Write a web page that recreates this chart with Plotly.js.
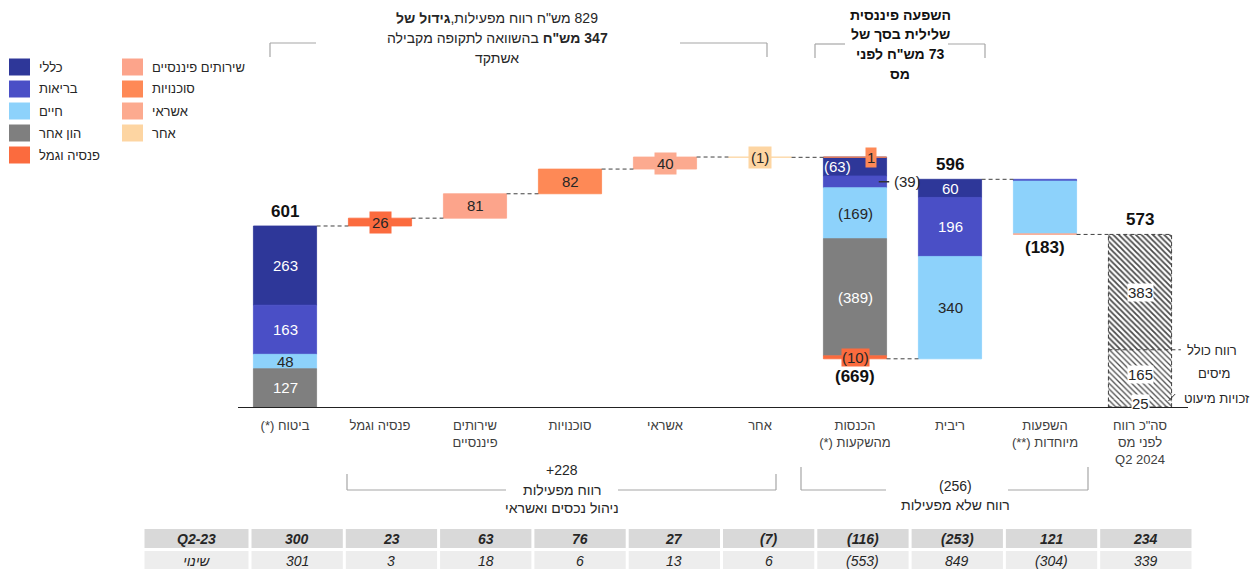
<!DOCTYPE html>
<html><head><meta charset="utf-8">
<script src="https://cdn.plot.ly/plotly-3.0.1.min.js"></script>
<style>html,body{margin:0;padding:0;background:#fff}</style>
</head><body><div id="chart" style="width:1258px;height:569px"></div>
<script>
// ---------------- DATA ----------------
const categories = ['ביטוח (*)','פנסיה וגמל','שירותים<br>פיננסיים','סוכנויות','אשראי','אחר','הכנסות<br>מהשקעות (*)','ריבית','השפעות<br>מיוחדות (**)','סה"כ רווח<br>לפני מס<br>Q2 2024'];
const insuranceLabels = ['הון אחר','חיים','בריאות','כללי'];
const insuranceValues = [127, 48, 163, 263];
const opsLabels = ['פנסיה וגמל','שירותים פיננסיים','סוכנויות','אשראי','אחר'];
const opsValues = [26, 81, 82, 40, -1];
const investLabels = ['סוכנויות','כללי','בריאות','חיים','הון אחר','פנסיה וגמל'];
const investValues = [1, -63, -39, -169, -389, -10];
const interestLabels = ['חיים','בריאות','כללי'];
const interestValues = [340, 196, 60];
const specialLabels = ['בריאות','חיים','אשראי'];
const specialValues = [-6, -175, -2];
const totalLabels = ['זכויות מיעוט','מיסים','רווח כולל'];
const totalValues = [25, 165, 383];
const legendLabels = ['כללי','בריאות','חיים','הון אחר','פנסיה וגמל','שירותים פיננסיים','סוכנויות','אשראי','אחר'];
const tableRowLabels = ['Q2-23','שינוי'];
const tableQ223 = [300, 23, 63, 76, 27, -7, -116, -253, 121, 234];
const tableChange = [301, 3, 18, 6, 13, 6, -553, 849, -304, 339];
const topNote1 = ['829 מש"ח רווח מפעילות,<b>גידול של</b>','<b>347 מש"ח</b> בהשוואה לתקופה מקבילה','אשתקד'];
const topNote2 = ['השפעה פיננסית','שלילית בסך של','73 מש"ח לפני','מס'];
const opsGroupValue = 228;
const opsGroupLines = ['רווח מפעילות','ניהול נכסים ואשראי'];
const nonOpsGroupValue = -256;
const nonOpsGroupLines = ['רווח שלא מפעילות'];

// ---------------- STYLE ----------------
const W = 1258, H = 569;
const FONT = '"Liberation Sans", Arial, "DejaVu Sans", sans-serif';
const colors = {'כללי':'#2E3799','בריאות':'#4A4FC6','חיים':'#8DD2FB','הון אחר':'#7F7F7F','פנסיה וגמל':'#FB6B3E',
  'שירותים פיננסיים':'#FCA48B','סוכנויות':'#FE8956','אשראי':'#FCAA8F','אחר':'#FDD5A2'};
const whiteText = {'כללי':true,'בריאות':true,'הון אחר':true};
const DARK = '#262626';
const xDom = [237.5/W, 1187.5/W];
const yDom = [(H-407)/H, (H-151)/H];
const yMax = 850;
const BW = 0.665;
const LBL = 15;
const fmt = v => v < 0 ? '(' + (-v) + ')' : String(v);
const pxP = px => px / W;
const pyP = py => (H - py) / H;

// ---------------- SEGMENTS ----------------
const segs = [];
const levels = [];
let level = 0;
insuranceLabels.forEach((lab, i) => { segs.push({cat:0, lab, base:level, v:insuranceValues[i]}); level += insuranceValues[i]; });
const insTotal = level; levels.push(level);
opsLabels.forEach((lab, i) => { segs.push({cat:i+1, lab, base:level, v:opsValues[i]}); level += opsValues[i]; levels.push(level); });
const investStart = level;
investLabels.forEach((lab, i) => { segs.push({cat:6, lab, base:level, v:investValues[i]}); level += investValues[i]; });
levels.push(level);
const investTotal = investValues.reduce((a,b)=>a+b,0);
const interestBase = level;
interestLabels.forEach((lab, i) => { segs.push({cat:7, lab, base:level, v:interestValues[i]}); level += interestValues[i]; });
levels.push(level);
const interestTotal = interestValues.reduce((a,b)=>a+b,0);
const specialTop = level;
specialLabels.forEach((lab, i) => { segs.push({cat:8, lab, base:level, v:specialValues[i]}); level += specialValues[i]; });
levels.push(level);
const specialTotal = specialValues.reduce((a,b)=>a+b,0);
const grandTotal = totalValues.reduce((a,b)=>a+b,0);

const traces = [];
legendLabels.forEach(lab => {
  const s = segs.filter(d => d.lab === lab);
  if (!s.length) return;
  traces.push({type:'bar', x:s.map(d=>d.cat), y:s.map(d=>d.v), base:s.map(d=>d.base), width:BW,
    marker:{color:colors[lab], line:{width:0.8, color:colors[lab]}}, showlegend:false, hoverinfo:'skip', name:lab});
});
let tb = 0;
totalValues.forEach((v, i) => {
  traces.push({type:'bar', x:[9], y:[v], base:[tb], width:BW, showlegend:false, hoverinfo:'skip', name:totalLabels[i],
    marker:{color:'#ffffff', line:{width:0}, pattern:{shape:'\\', fgcolor:'#4a4a4a', bgcolor:'#ffffff', size:4, solidity: i === 2 ? 0.45 : 0.32}}});
  tb += v;
});

// ---------------- ANNOTATIONS & SHAPES ----------------
const ann = [];
const shapes = [];
const A = (o) => ann.push(Object.assign({showarrow:false, xanchor:'center', yanchor:'middle', font:{family:FONT, size:13, color:DARK}}, o));
const lf = (c) => ({family:FONT, size:LBL, color:c});

segs.forEach(s => {
  const mid = s.base + s.v/2;
  const col = whiteText[s.lab] ? '#ffffff' : DARK;
  if (s.cat === 0 || s.cat === 7) {
    A({x:s.cat, y:mid, xref:'x', yref:'y', text:fmt(s.v), font:lf(col)});
  } else if (s.cat >= 1 && s.cat <= 5) {
    A({x:s.cat, y:mid, xref:'x', yref:'y', text:fmt(s.v), bgcolor:colors[s.lab], borderpad:2, font:lf(DARK)});
  } else if (s.cat === 6) {
    const idx = segs.filter(d=>d.cat===6).indexOf(s);
    if (idx === 0) {
      A({x:6.17, y:s.base + s.v, xref:'x', yref:'y', text:fmt(s.v), bgcolor:colors[s.lab], borderpad:1, font:lf(DARK)});
    } else if (idx === 1) {
      A({x:5.82, y:mid, xref:'x', yref:'y', text:fmt(s.v), font:lf(col)});
    } else if (idx === 2) {
      A({x:6.55, y:mid, xref:'x', yref:'y', text:fmt(s.v), font:lf(DARK)});
      shapes.push({type:'line', xref:'x', yref:'y', x0:6.25, x1:6.36, y0:mid, y1:mid, line:{color:'#333', width:1.5}});
    } else if (idx === investLabels.length - 1) {
      A({x:6, y:mid, xref:'x', yref:'y', text:fmt(s.v), bgcolor:colors[s.lab], borderpad:0, font:lf(DARK)});
    } else {
      A({x:6, y:mid, xref:'x', yref:'y', text:fmt(s.v), font:lf(col)});
    }
  }
});
// total bar labels
tb = 0;
totalValues.forEach((v, i) => {
  A({x:9, y:tb + v/2, xref:'x', yref:'y', text:String(v), bgcolor:'#ffffff', borderpad:0, font:lf(DARK)});
  tb += v;
});
// bold totals
const bold = {family:FONT, size:17, color:'#111'};
A({x:0, y:insTotal, xref:'x', yref:'y', text:'<b>'+insTotal+'</b>', yshift:14, font:bold});
A({x:7, y:interestBase + interestTotal, xref:'x', yref:'y', text:'<b>'+interestTotal+'</b>', yshift:15, font:bold});
A({x:9, y:grandTotal, xref:'x', yref:'y', text:'<b>'+grandTotal+'</b>', yshift:15, font:bold});
A({x:6, y:investStart + investTotal, xref:'x', yref:'y', text:'<b>'+fmt(investTotal)+'</b>', yshift:-18, font:bold});
A({x:8, y:specialTop + specialTotal, xref:'x', yref:'y', text:'<b>'+fmt(specialTotal)+'</b>', yshift:-13, font:bold});

// connectors
const connLine = {color:'#404040', width:1, dash:'4px,3px'};
levels.forEach((lv, i) => {
  if (i >= 9) return;
  shapes.push({type:'line', xref:'x', yref:'y', x0:i + BW/2, x1:i + 1 - BW/2, y0:lv, y1:lv, line:connLine});
});
// total dashed outline and inner line
shapes.push({type:'rect', xref:'x', yref:'y', x0:9-BW/2, x1:9+BW/2, y0:0, y1:grandTotal, line:connLine});
const netBase = totalValues[0] + totalValues[1];
shapes.push({type:'line', xref:'x', yref:'y', x0:9-BW/2, x1:9+0.43, y0:netBase, y1:netBase, line:connLine});
shapes.push({type:'line', xref:'x', yref:'y', x0:9.3, x1:9.37, y0:20, y1:43, line:{color:'#333', width:1}});
A({x:pxP(1212), y:pyP(350), xref:'paper', yref:'paper', text:totalLabels[2]});
A({x:pxP(1214), y:pyP(374), xref:'paper', yref:'paper', text:totalLabels[1]});
A({x:pxP(1217), y:pyP(398), xref:'paper', yref:'paper', text:totalLabels[0]});

// legend
legendLabels.forEach((lab, i) => {
  const col = i < 5 ? 0 : 1, row = i < 5 ? i : i - 5;
  const cy = 67 + row * 22;
  const sx = col === 0 ? 9 : 122;
  shapes.push({type:'rect', xref:'paper', yref:'paper', x0:pxP(sx), x1:pxP(sx+21), y0:pyP(cy+8.5), y1:pyP(cy-8.5),
    fillcolor:colors[lab], line:{width:0}});
  A({x:pxP(sx+28), y:pyP(cy), xref:'paper', yref:'paper', xanchor:'left', text:lab});
});

// table (cells drawn as shapes + text)
const tX0 = 143, tX1 = 1193, firstW = 107;
const colW = (tX1 - tX0 - firstW) / tableQ223.length;
const rows = [
  {label:tableRowLabels[0], vals:tableQ223, fill:'#D9D9D9', y0:529, y1:548, pre:'<b><i>', post:'</i></b>'},
  {label:tableRowLabels[1], vals:tableChange, fill:'#EDEDED', y0:551, y1:572, pre:'<i>', post:'</i>'}
];
rows.forEach((r, ri) => {
  const cells = [{x0:tX0, x1:tX0 + firstW, t:r.label}].concat(r.vals.map((v, j) => ({x0:tX0 + firstW + j*colW, x1:tX0 + firstW + (j+1)*colW, t:fmt(v)})));
  cells.forEach(c => {
    shapes.push({type:'rect', xref:'paper', yref:'paper', x0:pxP(c.x0 + 1.5), x1:pxP(c.x1 - 1.5), y0:pyP(r.y1), y1:pyP(r.y0),
      fillcolor:r.fill, line:{width:0}, layer:'below'});
    A({x:pxP((c.x0 + c.x1)/2), y:pyP(ri === 0 ? 539 : 561), xref:'paper', yref:'paper', text:r.pre + c.t + r.post,
      font:{family:FONT, size:14, color:DARK}});
  });
});

// brackets
const brk = {color:'#A6A6A6', width:1.2};
const L = (x0,y0,x1,y1) => shapes.push({type:'line', xref:'paper', yref:'paper', x0:pxP(x0), y0:pyP(y0), x1:pxP(x1), y1:pyP(y1), line:brk});
// top 1
L(270,43,316,43); L(270,43,270,57); L(680,43,767,43); L(767,43,767,57);
topNote1.forEach((t,i)=>A({x:pxP(497), y:pyP(18 + i*20), xref:'paper', yref:'paper', text:t, font:{family:FONT, size:14, color:DARK}}));
// top 2
L(815,44,845,44); L(815,44,815,58); L(948,44,985,44); L(985,44,985,58);
topNote2.forEach((t,i)=>A({x:pxP(900), y:pyP(15 + i*19.5), xref:'paper', yref:'paper', text:'<b>'+t+'</b>', font:{family:FONT, size:14, color:'#111'}}));
// bottom 1
L(347,474,347,490); L(776,474,776,490); L(347,490,506,490); L(618,490,776,490);
A({x:pxP(562), y:pyP(470), xref:'paper', yref:'paper', text:'+' + opsGroupValue, font:{family:FONT, size:14, color:DARK}});
opsGroupLines.forEach((t,i)=>A({x:pxP(562), y:pyP(490 + i*18), xref:'paper', yref:'paper', text:t, font:{family:FONT, size:14, color:DARK}}));
// bottom 2
L(801,467,801,490); L(1088,467,1088,490); L(801,490,886,490); L(1008,490,1088,490);
A({x:pxP(955), y:pyP(486), xref:'paper', yref:'paper', text:fmt(nonOpsGroupValue), font:{family:FONT, size:14, color:DARK}});
nonOpsGroupLines.forEach((t,i)=>A({x:pxP(955), y:pyP(505 + i*18), xref:'paper', yref:'paper', text:t, font:{family:FONT, size:14, color:DARK}}));

const layout = {
  width:W, height:H, margin:{l:0, r:0, t:0, b:0}, paper_bgcolor:'#fff', plot_bgcolor:'rgba(0,0,0,0)',
  barmode:'overlay', showlegend:false, font:{family:FONT, color:DARK},
  xaxis:{domain:xDom, range:[-0.5, 9.5], tickvals:categories.map((c,i)=>i), ticktext:categories,
    showgrid:false, zeroline:false, showline:true, linecolor:'#222', linewidth:1.3, ticks:'', ticklabelstandoff:6,
    tickfont:{family:FONT, size:13, color:'#404040'}, fixedrange:true},
  yaxis:{domain:yDom, range:[0, yMax], visible:false, fixedrange:true},
  annotations:ann, shapes:shapes
};
Plotly.newPlot('chart', traces, layout, {displayModeBar:false, staticPlot:true}).then(gd => {
  // Hebrew texts are right-to-left paragraphs, as in the original slide
  gd.querySelectorAll('text').forEach(t => {
    if (!/[\u0590-\u05FF]/.test(t.textContent)) return;
    t.setAttribute('direction', 'rtl');
    t.style.direction = 'rtl';
    t.style.unicodeBidi = 'embed';
    t.querySelectorAll('tspan.line').forEach(ts => { ts.style.direction = 'rtl'; ts.style.unicodeBidi = 'isolate'; });
  });
});
</script></body></html>
